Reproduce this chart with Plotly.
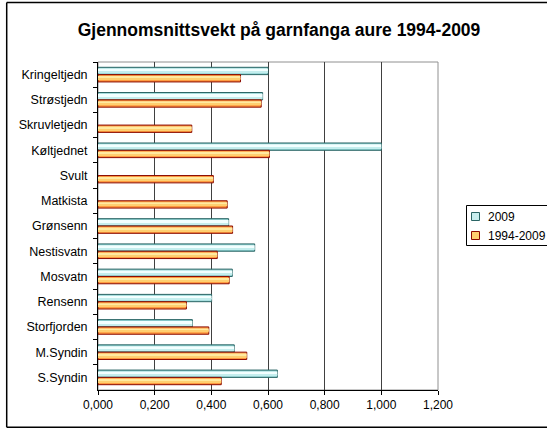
import plotly.graph_objects as go

categories = ["Kringeltjedn", "Strøstjedn", "Skruvletjedn", "Køltjednet", "Svult",
              "Matkista", "Grønsenn", "Nestisvatn", "Mosvatn", "Rensenn",
              "Storfjorden", "M.Syndin", "S.Syndin"]
values_2009 = [0.600, 0.581, None, 1.000, None, None, 0.461, 0.553, 0.474, 0.401,
               0.333, 0.481, 0.633]
values_1994_2009 = [0.503, 0.576, 0.331, 0.605, 0.407, 0.456, 0.475, 0.421, 0.463,
                    0.312, 0.391, 0.525, 0.435]
series_names = ["2009", "1994-2009"]
x_ticks = [0, 0.2, 0.4, 0.6, 0.8, 1.0, 1.2]

# plot area in pixels
L, R, T, B = 98, 438, 62, 390
PW, PH = R - L, B - T


def px(x):
    return (x - L) / PW


def py(y):
    return (B - y) / PH


def hline(x0, x1, y, color="black", w=1.0):
    return dict(type="line", xref="paper", yref="paper", x0=px(x0), x1=px(x1),
                y0=py(y), y1=py(y), line=dict(color=color, width=w))


def vline(x, y0, y1, color="black", w=1.0):
    return dict(type="line", xref="paper", yref="paper", x0=px(x), x1=px(x),
                y0=py(y0), y1=py(y1), line=dict(color=color, width=w))


W = 0.29
fig = go.Figure()

# 2009 series (upper bar), layered to mimic a gradient
fig.add_trace(go.Bar(name=series_names[0], y=categories, x=values_2009, orientation="h",
                     offset=-W, width=W, marker=dict(color="#8fd3d3",
                     line=dict(color="#2a6464", width=1))))
fig.add_trace(go.Bar(y=categories, x=values_2009, orientation="h",
                     offset=-W * 0.82, width=W * 0.45, marker=dict(color="#f2ffff",
                     line=dict(width=0)), hoverinfo="skip"))
fig.add_trace(go.Bar(y=categories, x=values_2009, orientation="h",
                     offset=-W * 0.37, width=W * 0.2, marker=dict(color="#c4eeee",
                     line=dict(width=0)), hoverinfo="skip"))

# 1994-2009 series (lower bar)
fig.add_trace(go.Bar(name=series_names[1], y=categories, x=values_1994_2009, orientation="h",
                     offset=0, width=W, marker=dict(color="#ff9a40",
                     line=dict(color="#8a0a00", width=1))))
fig.add_trace(go.Bar(y=categories, x=values_1994_2009, orientation="h",
                     offset=W * 0.2, width=W * 0.35, marker=dict(color="#ffeaa0",
                     line=dict(width=0)), hoverinfo="skip"))
fig.add_trace(go.Bar(y=categories, x=values_1994_2009, orientation="h",
                     offset=W * 0.55, width=W * 0.18, marker=dict(color="#ffcf70",
                     line=dict(width=0)), hoverinfo="skip"))

font = "Liberation Sans, Arial, sans-serif"

# Excel-style legend, compact (box open to the right, cut by the page edge)
legend_shapes = [
    hline(466.5, 547, 205.5), hline(466.5, 547, 245.5), vline(466.5, 205.5, 245.5),
    dict(type="rect", xref="paper", yref="paper", x0=px(471.5), x1=px(479.5),
         y0=py(220.5), y1=py(212.5), line=dict(color="#2a6464", width=1),
         fillcolor="#c8eeee"),
    dict(type="rect", xref="paper", yref="paper", x0=px(471.5), x1=px(479.5),
         y0=py(239.5), y1=py(231.5), line=dict(color="#8a0a00", width=1),
         fillcolor="#ffcf70"),
]
legend_ann = [
    dict(text=series_names[0], xref="paper", yref="paper", x=px(485.5), y=py(216.5),
         xanchor="left", yanchor="middle", showarrow=False,
         font=dict(family=font, size=12, color="black")),
    dict(text=series_names[1], xref="paper", yref="paper", x=px(485.5), y=py(235.5),
         xanchor="left", yanchor="middle", showarrow=False,
         font=dict(family=font, size=12, color="black")),
]

# chart frame (right edge lies off the page)
frame = [hline(6.7, 547, 2.5, w=1.5), hline(6.7, 547, 427.3, w=1.5),
         vline(6.7, 2.5, 427.3, w=1.5)]

fig.update_layout(
    width=547, height=428,
    margin=dict(l=L, r=547 - R, t=T, b=428 - B, autoexpand=False),
    paper_bgcolor="white", plot_bgcolor="white",
    barmode="overlay",
    showlegend=False,
    separators=",.",
    font=dict(family=font, size=12, color="black"),
    title=dict(text="<b>Gjennomsnittsvekt på garnfanga aure 1994-2009</b>",
               x=279 / 547, xref="container", xanchor="center",
               y=1 - 30 / 428, yref="container", yanchor="middle",
               font=dict(family=font, size=17.5, color="black")),
    xaxis=dict(range=[0, 1.2], tickvals=x_ticks, tickformat=".3f",
               showgrid=True, gridcolor="#404040", gridwidth=1,
               showline=True, linecolor="black", linewidth=1,
               ticks="outside", ticklen=4, tickcolor="black",
               zeroline=False, fixedrange=True, automargin=False,
               tickfont=dict(size=12)),
    yaxis=dict(categoryorder="array", categoryarray=categories, autorange="reversed",
               showline=True, linecolor="black", linewidth=1,
               ticks="outside", ticklen=4, tickcolor="black", tickson="boundaries",
               showgrid=False, zeroline=False, ticksuffix="  ", automargin=False,
               tickfont=dict(size=12.5)),
    shapes=[
        dict(type="rect", xref="paper", yref="paper", x0=0, x1=1, y0=0, y1=1,
             line=dict(color="#909090", width=1), layer="below"),
    ] + frame + legend_shapes,
    annotations=legend_ann,
)

fig.write_html("out.html", config={"displayModeBar": False},
               post_script="document.body.style.margin='0';document.body.style.overflow='hidden';")
